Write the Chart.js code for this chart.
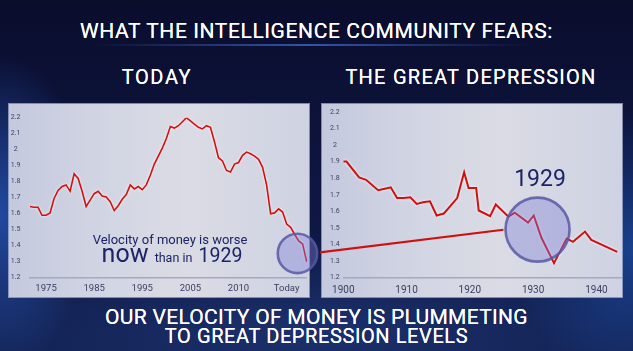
<!DOCTYPE html>
<html>
<head>
<meta charset="utf-8">
<script src="https://cdn.jsdelivr.net/npm/chart.js@4.4.1/dist/chart.umd.min.js"></script>
<style>
  html, body { margin: 0; padding: 0; }
  body {
    width: 633px; height: 351px; overflow: hidden; position: relative;
    font-family: Roboto, "Open Sans", sans-serif;
    background:
      radial-gradient(ellipse 90px 160px at 0px 215px, rgba(40,90,190,0.75), rgba(40,90,190,0) 100%),
      radial-gradient(ellipse 120px 140px at 633px 250px, rgba(30,80,170,0.7), rgba(30,80,170,0) 100%),
      radial-gradient(ellipse 380px 90px at 316px 330px, rgba(35,60,130,0.6), rgba(35,60,130,0) 100%),
      linear-gradient(180deg, #0a0d2c 0%, #0e1540 50%, #11204f 100%);
  }
  .txt { position: absolute; white-space: nowrap; line-height: 1; color: #ffffff; }
  .hd { font-weight: 400; text-shadow: 0 0 0.4px #fff; }
  .panel { position: absolute; top: 104px; width: 300px; height: 193px;
    background: linear-gradient(90deg, #c4c9de 0%, #d3d6e3 35%, #dadbe4 60%, #ced2e2 100%);
    box-shadow: 0 0 0 1px rgba(210,215,235,0.6); }
  canvas { position: absolute; }
  .navy { color: #1c2366; }
</style>
</head>
<body>
<div class="txt hd" style="left:0;width:633px;text-align:center;top:21px;font-size:21px;letter-spacing:0.6px;">WHAT THE INTELLIGENCE COMMUNITY FEARS:</div>
<div style="position:absolute;left:90px;top:44px;width:440px;height:2px;background:linear-gradient(90deg,rgba(60,100,210,0),rgba(70,115,225,0.7),rgba(60,100,210,0));"></div>
<div class="txt hd" style="left:57px;width:200px;text-align:center;top:67px;font-size:20px;letter-spacing:1.6px;">TODAY</div>
<div class="txt hd" style="left:321px;width:300px;text-align:center;top:67px;font-size:20px;letter-spacing:1.25px;">THE GREAT DEPRESSION</div>

<div class="panel" style="left:9px;"></div>
<div class="panel" style="left:322px;"></div>

<canvas id="today" width="311" height="193" style="left:9px;top:104px;width:311px;height:193px;"></canvas>
<canvas id="dep" width="302" height="193" style="left:320px;top:104px;width:302px;height:193px;"></canvas>

<div class="txt navy" style="left:70px;width:200px;text-align:center;top:233px;font-size:13px;">Velocity of money is worse</div>
<div class="txt navy" style="left:72px;width:200px;text-align:center;top:241px;font-size:25px;"><span style="font-size:25px;">now</span> <span style="font-size:12.5px;">than in</span> <span style="font-size:19.5px;">1929</span></div>
<div class="txt navy" style="left:490px;width:100px;text-align:center;top:167px;font-size:23px;">1929</div>

<div class="txt hd" style="left:0;width:633px;text-align:center;top:307px;font-size:21px;letter-spacing:0.3px;">OUR VELOCITY OF MONEY IS PLUMMETING</div>
<div class="txt hd" style="left:0;width:633px;text-align:center;top:326px;font-size:20px;letter-spacing:0.6px;">TO GREAT DEPRESSION LEVELS</div>

<script>
// ---- Data: TODAY (velocity of money, sampled along the timeline) ----
const todayValues = [
  1.645, 1.64, 1.64, 1.59, 1.59, 1.605, 1.695, 1.745, 1.77, 1.78,
  1.74, 1.85, 1.82, 1.74, 1.645, 1.685, 1.725, 1.74, 1.71, 1.705,
  1.675, 1.62, 1.65, 1.69, 1.72, 1.78, 1.755, 1.77, 1.75, 1.78,
  1.84, 1.91, 1.96, 2.01, 2.07, 2.145, 2.135, 2.15, 2.175, 2.20,
  2.18, 2.16, 2.14, 2.13, 2.15, 2.14, 2.05, 1.95, 1.93, 1.87,
  1.86, 1.91, 1.92, 1.965, 1.985, 1.975, 1.96, 1.94, 1.89, 1.78,
  1.60, 1.605, 1.63, 1.61, 1.535, 1.515, 1.47, 1.43, 1.41, 1.30
];
const todayTickLabels = ['1975', '1985', '1995', '2005', '2010', 'Today'];
const todayTickSlots = [4, 16, 28, 40, 52, 64];
const todayCategories = todayValues.map((v, i) => {
  const k = todayTickSlots.indexOf(i);
  return k >= 0 ? todayTickLabels[k] : '';
});
const todayHighlight = { x: 66.7, y: 1.352 };

// ---- Data: THE GREAT DEPRESSION ----
const depYears = [1900, 1900.5, 1902.5, 1903.6, 1905.5, 1906.4, 1907.5, 1908.5, 1909.6, 1910.6,
  1911.6, 1912.6, 1913.7, 1914.75, 1915.9, 1918, 1919.1, 1919.8, 1921, 1921.4,
  1923.2, 1924.1, 1926.1, 1927.1, 1929.2, 1930.1, 1931.3, 1933.3, 1935.3, 1936.3,
  1938.2, 1939.2, 1943.3];
const depValues = [1.90, 1.90, 1.805, 1.79, 1.727, 1.735, 1.745, 1.68, 1.68, 1.685,
  1.645, 1.655, 1.661, 1.575, 1.587, 1.68, 1.835, 1.741, 1.741, 1.605,
  1.571, 1.641, 1.568, 1.592, 1.532, 1.575, 1.442, 1.288, 1.436, 1.416,
  1.478, 1.428, 1.356];
const linkYears = [1896.3, 1925.3];
const linkValues = [1.352, 1.489];
const depHighlight = { x: 1930.7, y: 1.49 };
const depTicks = [1900, 1910, 1920, 1930, 1940];

// y-axis range shared
const yMin = 1.2, yMax = 2.2, yStep = 0.1;

const tickColor = '#3a3f63';

function glowPlugin() {
  return {
    id: 'glow',
    beforeDatasetDraw(chart, args) {
      const ctx = chart.ctx; ctx.save();
      if (chart.data.datasets[args.index].glow) {
        ctx.shadowColor = 'rgba(255,255,255,0.95)';
        ctx.shadowBlur = 3;
      }
    },
    afterDatasetDraw(chart) { chart.ctx.restore(); }
  };
}
function circlePlugin(center, radius) {
  return {
    id: 'circle',
    afterDatasetsDraw(chart) {
      const ctx = chart.ctx;
      const x = chart.scales.x.getPixelForValue(center.x);
      const y = chart.scales.y.getPixelForValue(center.y);
      ctx.save();
      ctx.beginPath();
      ctx.arc(x, y, radius, 0, Math.PI * 2);
      ctx.fillStyle = 'rgba(125,125,215,0.38)';
      ctx.fill();
      ctx.lineWidth = 2.6;
      ctx.strokeStyle = 'rgba(88,88,165,0.85)';
      ctx.stroke();
      ctx.restore();
    }
  };
}

const yScaleBase = (width, pad) => ({
  type: 'linear', min: yMin, max: yMax,
  grid: { display: false, drawTicks: false },
  border: { display: false },
  afterFit(s) { s.width = width; },
  ticks: {
    stepSize: yStep, color: tickColor, font: { family: 'Roboto', size: 7 },
    crossAlign: 'center', padding: pad,
    callback: v => String(Math.round(v * 10) / 10)
  }
});

new Chart(document.getElementById('today'), {
  type: 'line',
  data: {
    labels: todayCategories,
    datasets: [{
      data: todayValues, borderColor: '#d4100f', borderWidth: 1.6, pointRadius: 0,
      tension: 0, glow: true
    }]
  },
  options: {
    responsive: false, animation: false, devicePixelRatio: 1,
    layout: { padding: { top: 6.7, right: 13.3, left: 0, bottom: 0 } },
    plugins: { legend: { display: false }, tooltip: { enabled: false } },
    scales: {
      x: {
        type: 'category', offset: false,
        grid: { display: false, drawTicks: false },
        border: { display: true, color: '#a3a9c0', width: 1.5 },
        afterFit(s) { s.height = 19.3; },
        ticks: { autoSkip: false, maxRotation: 0, color: tickColor, font: { family: 'Roboto', size: 9.5 }, padding: 5 }
      },
      y: yScaleBase(21, 9.5)
    }
  },
  plugins: [glowPlugin(), circlePlugin(todayHighlight, 19.7)]
});

new Chart(document.getElementById('dep'), {
  type: 'line',
  data: {
    datasets: [
      {
        data: depYears.map((x, i) => ({ x, y: depValues[i] })),
        borderColor: '#cf1010', borderWidth: 2, pointRadius: 0, tension: 0, glow: true
      },
      {
        data: linkYears.map((x, i) => ({ x, y: linkValues[i] })),
        borderColor: '#cf1010', borderWidth: 2.2, pointRadius: 0, tension: 0, clip: false
      }
    ]
  },
  options: {
    responsive: false, animation: false, devicePixelRatio: 1,
    layout: { padding: { top: 6.7, right: 0.3, left: 0, bottom: 0 } },
    plugins: { legend: { display: false }, tooltip: { enabled: false } },
    scales: {
      x: {
        type: 'linear', min: 1900, max: 1944,
        grid: { display: false, drawTicks: false },
        border: { display: true, color: '#a3a9c0', width: 1.5 },
        afterFit(s) { s.height = 19.3; },
        afterBuildTicks(s) { s.ticks = depTicks.map(v => ({ value: v })); },
        ticks: { color: tickColor, font: { family: 'Roboto', size: 10 }, padding: 6.5, callback: v => String(v) }
      },
      y: yScaleBase(23.3, 3.6)
    }
  },
  plugins: [glowPlugin(), circlePlugin(depHighlight, 32)]
});
</script>
</body>
</html>
